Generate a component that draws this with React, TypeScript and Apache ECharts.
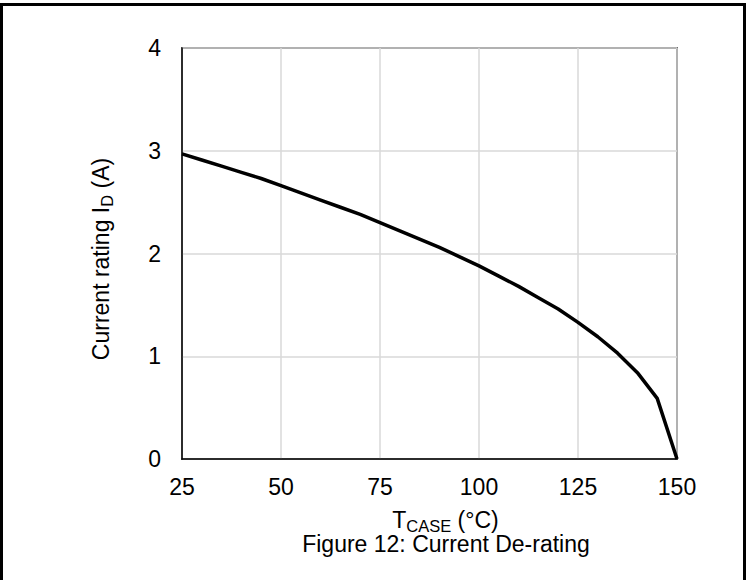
import React, { useEffect, useRef } from "react";
import * as echarts from "echarts";

// Case temperature (°C) and the allowed drain current (A)
const caseTemps = [25, 30, 35, 40, 45, 50, 55, 60, 65, 70, 75, 80, 85, 90, 95, 100, 105, 110, 115, 120, 125, 130, 135, 140, 145, 150];
const currentRating = [2.97, 2.91, 2.85, 2.79, 2.73, 2.66, 2.59, 2.52, 2.45, 2.38, 2.3, 2.22, 2.14, 2.06, 1.97, 1.88, 1.78, 1.68, 1.57, 1.46, 1.33, 1.19, 1.03, 0.84, 0.59, 0];

const xTicks = [25, 50, 75, 100, 125, 150];
const yTicks = [0, 1, 2, 3, 4];

const FONT = "'Liberation Sans', Arial, sans-serif";
const FS = 23;

// main text + subscript; the top padding pushes the subscript below the baseline
const richSub = {
  a: { fontSize: FS, color: "#000", fontFamily: FONT, lineHeight: 24 },
  s: { fontSize: 16.5, color: "#000", fontFamily: FONT, lineHeight: 24, padding: [12, 0, 0, 0] },
};

export default function App() {
  const ref = useRef<HTMLDivElement>(null);

  useEffect(() => {
    if (!ref.current) return;
    const chart = echarts.init(ref.current, undefined, { renderer: "svg" });
    chart.setOption({
      animation: false,
      backgroundColor: "#fff",
      textStyle: { fontFamily: FONT },
      grid: {
        left: 182,
        top: 48,
        width: 495,
        height: 411,
        show: true,
        borderColor: "#000",
        borderWidth: 1.5,
        backgroundColor: "transparent",
      },
      xAxis: {
        type: "value",
        min: xTicks[0],
        max: xTicks[xTicks.length - 1],
        interval: 25,
        axisLine: { show: true, lineStyle: { color: "#000", width: 1.5 } },
        axisTick: { show: false },
        splitLine: { show: true, lineStyle: { color: "#d9d9d9", width: 1.5 } },
        axisLabel: { color: "#000", fontSize: FS, margin: 16, fontFamily: FONT },
      },
      yAxis: {
        type: "value",
        min: yTicks[0],
        max: yTicks[yTicks.length - 1],
        interval: 1,
        axisLine: { show: true, lineStyle: { color: "#000", width: 1.5 } },
        axisTick: { show: false },
        splitLine: { show: true, lineStyle: { color: "#d9d9d9", width: 1.5 } },
        axisLabel: { color: "#000", fontSize: FS, margin: 21, fontFamily: FONT },
      },
      series: [
        {
          type: "line",
          data: caseTemps.map((t, i) => [t, currentRating[i]]),
          showSymbol: false,
          lineStyle: { color: "#000", width: 3.5 },
          clip: false,
        },
      ],
      graphic: [
        {
          type: "rect",
          shape: { x: 1.5, y: 4.5, width: 743, height: 620 },
          style: { fill: "none", stroke: "#000", lineWidth: 3 },
          silent: true,
        },
        {
          type: "text",
          x: 100.5,
          y: 259,
          rotation: Math.PI / 2,
          style: {
            text: "{a|Current rating I}{s|D}{a| (A)}",
            rich: richSub,
            align: "center",
            verticalAlign: "middle",
          },
        },
        {
          type: "text",
          x: 445.5,
          y: 508,
          style: {
            text: "{a|T}{s|CASE}{a| (°C)}",
            rich: richSub,
            align: "center",
            verticalAlign: "top",
          },
        },
        {
          type: "text",
          x: 446,
          y: 544,
          style: {
            text: "Figure 12: Current De-rating",
            fontSize: FS,
            fontFamily: FONT,
            fill: "#000",
            align: "center",
            verticalAlign: "middle",
          },
        },
      ],
    });
    return () => chart.dispose();
  }, []);

  return (
    <div
      ref={ref}
      style={{ position: "fixed", left: 0, top: 0, width: 747, height: 580 }}
    />
  );
}
